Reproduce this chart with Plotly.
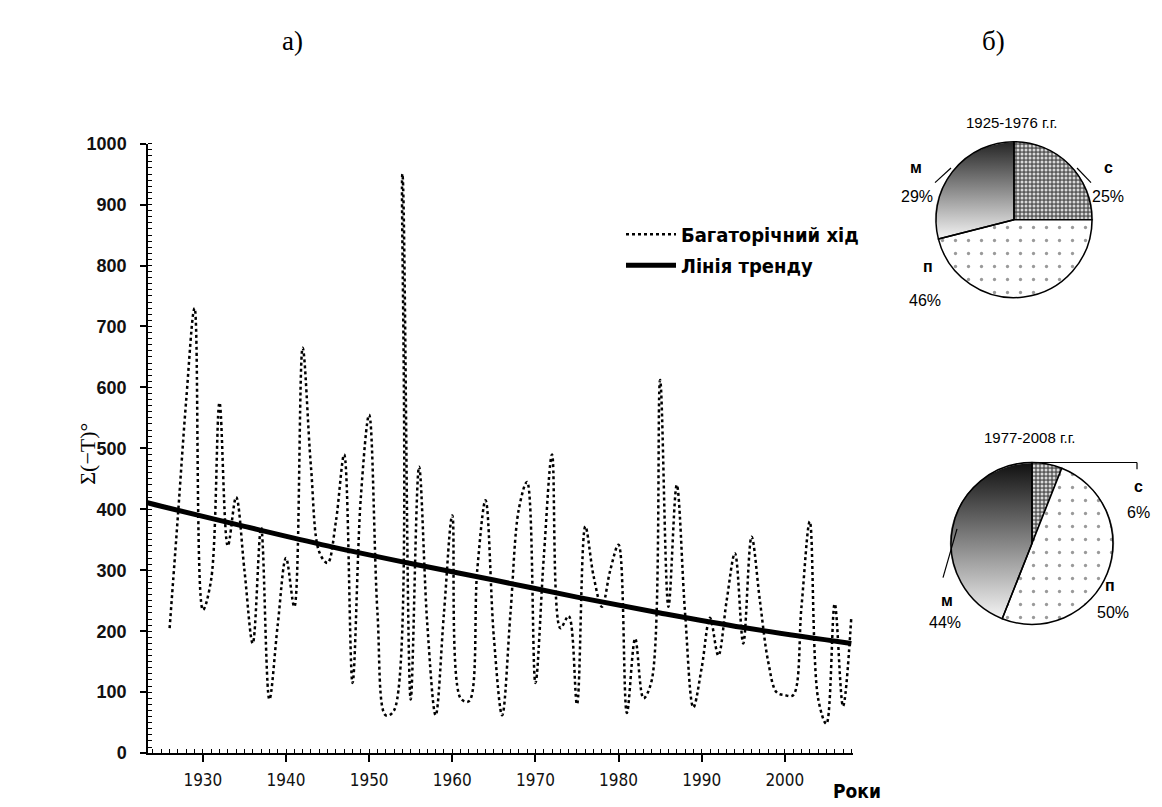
import base64
import plotly.graph_objects as go

W, H = 1162, 807

# ---------------- data ----------------
years = list(range(1926, 2009))
values = [
    205, 390, 580, 730, 235, 285, 575, 340, 420, 300,   # 1926-1935
    180, 370, 88, 210, 320, 240, 665, 470, 330, 312,    # 1936-1945
    380, 490, 115, 420, 555, 230, 62, 70, 950, 88,      # 1946-1955
    470, 210, 62, 230, 390, 90, 85, 300, 415, 190,      # 1956-1965
    62, 230, 400, 445, 115, 320, 490, 205, 225, 80,     # 1966-1975
    372, 290, 240, 300, 342, 66, 188, 90, 120, 612,     # 1976-1985
    240, 440, 230, 75, 140, 222, 160, 250, 328, 180,    # 1986-1995
    355, 250, 150, 100, 95, 95, 240, 380, 90, 48,       # 1996-2005
    245, 77, 224,                                       # 2006-2008
]
trend_years = [1923, 1925, 1935, 1945, 1955, 1965, 1975, 1985, 1995, 2008]
trend_values = [412, 405, 372, 340, 311, 284, 256, 230, 206, 180]

series_names = ["Багаторічний хід", "Лінія тренду"]
x_title = "Роки"
y_title = "Σ(−T)°"

pie_labels = ["с", "п", "м"]
pie1_title = "1925-1976 г.г."
pie1_values = [25, 46, 29]
pie2_title = "1977-2008 г.г."
pie2_values = [6, 50, 44]

SANS = "Liberation Sans, Arial, sans-serif"
NARROW = "Liberation Sans Narrow, Arial Narrow, DejaVu Sans Condensed, Liberation Sans, sans-serif"
SERIF = "Liberation Serif, Times New Roman, serif"


# ---------------- helpers ----------------
def px(x):
    return x / W


def py(y):
    return 1 - y / H


def grad_circle(top, mid, stop_mid):
    svg = (
        '<svg xmlns="http://www.w3.org/2000/svg" width="200" height="200">'
        '<defs><linearGradient id="g" x1="0" y1="0" x2="0" y2="1">'
        f'<stop offset="0" stop-color="{top}"/>'
        f'<stop offset="{stop_mid}" stop-color="{mid}"/>'
        '</linearGradient></defs>'
        '<circle cx="100" cy="100" r="99" fill="url(#g)"/></svg>'
    )
    return "data:image/svg+xml;base64," + base64.b64encode(svg.encode()).decode()


fig = go.Figure()

fig.add_trace(go.Scatter(
    x=years, y=values, mode="lines", name=series_names[0],
    line=dict(color="black", width=2.5, dash="dot", shape="spline"),
    legendgroup="a",
))
fig.add_trace(go.Scatter(
    x=trend_years, y=trend_values, mode="lines", name=series_names[1],
    line=dict(color="black", width=5, shape="spline"),
    legendgroup="b",
))

# pies
p1c = (1014, 215)
p1r = 80
p2c = (1032, 547)
p2r = 83

pie_marker_common = dict(
    line=dict(color="black", width=1.5),
    pattern=dict(
        shape=[".", ".", ""],
        fgcolor=["#d8d8d8", "#9a9a9a", "black"],
        bgcolor=["#5a5a5a", "white", "rgba(0,0,0,0)"],
        size=[4, 13, 8],
        solidity=[0.45, 0.05, 0.1],
    ),
)

for vals, (cx, cy), r in [(pie1_values, p1c, p1r), (pie2_values, p2c, p2r)]:
    fig.add_trace(go.Pie(
        labels=pie_labels, values=vals, sort=False, direction="clockwise",
        rotation=0, textinfo="none", showlegend=False, hoverinfo="label+percent",
        domain=dict(x=[px(cx - r), px(cx + r)], y=[py(cy + r), py(cy - r)]),
        marker=dict(colors=["#5a5a5a", "white", "rgba(0,0,0,0)"], **pie_marker_common),
    ))

images = [
    dict(source=grad_circle("#262626", "#ffffff", 0.66), xref="paper", yref="paper",
         x=px(p1c[0] - p1r), y=py(p1c[1] - p1r), sizex=2 * p1r / W, sizey=2 * p1r / H,
         sizing="stretch", layer="below", xanchor="left", yanchor="top"),
    dict(source=grad_circle("#111111", "#f0f0f0", 0.95), xref="paper", yref="paper",
         x=px(p2c[0] - p2r), y=py(p2c[1] - p2r), sizex=2 * p2r / W, sizey=2 * p2r / H,
         sizing="stretch", layer="below", xanchor="left", yanchor="top"),
]

annotations = [
    dict(text="а)", x=px(292), y=py(32), font=dict(family=SERIF, size=27, color="black")),
    dict(text="б)", x=px(993), y=py(32), font=dict(family=SERIF, size=27, color="black")),
    dict(text=y_title, x=px(88), y=py(455), textangle=-90,
         font=dict(family=SERIF, size=22, color="black")),
    dict(text=f"<b>{x_title}</b>", x=px(857), y=py(801),
         font=dict(family=NARROW, size=19, color="black")),
    dict(text=pie1_title, x=px(1012), y=py(115), font=dict(family=SANS, size=15, color="black")),
    dict(text=pie2_title, x=px(1030), y=py(438), font=dict(family=SANS, size=15, color="black")),
]

label_pos1 = {"с": [(1108, 161), (1108, 191)], "п": [(928, 263), (925, 298)], "м": [(916, 161), (917, 191)]}
label_pos2 = {"с": [(1138, 489), (1138, 515)], "п": [(1110, 590), (1113, 618)], "м": [(947, 606), (945, 628)]}
for vals, lp in [(pie1_values, label_pos1), (pie2_values, label_pos2)]:
    for lab, v in zip(pie_labels, vals):
        (lx, ly), (vx, vy) = lp[lab]
        annotations.append(dict(text=f"<b>{lab}</b>", x=px(lx), y=py(ly),
                                font=dict(family=SANS, size=16, color="black")))
        annotations.append(dict(text=f"{v}%", x=px(vx), y=py(vy),
                                font=dict(family=SANS, size=16, color="black")))

for a in annotations:
    a.update(xref="paper", yref="paper", showarrow=False, xanchor="center", yanchor="middle")


def seg(x0, y0, x1, y1):
    return dict(type="line", xref="paper", yref="paper", x0=px(x0), y0=py(y0), x1=px(x1), y1=py(y1),
                line=dict(color="black", width=1.2))


shapes = [
    seg(935, 177, 951, 162),
    seg(1077, 162, 1091, 177),
    seg(1040, 464, 1137, 464),
    seg(1137, 464, 1137, 471),
    seg(943, 582, 957, 532),
]

fig.update_layout(
    width=W, height=H,
    margin=dict(l=0, r=0, t=0, b=0),
    paper_bgcolor="white", plot_bgcolor="rgba(0,0,0,0)",
    showlegend=True,
    legend=dict(x=px(621), y=py(210), xanchor="left", yanchor="top",
                font=dict(family=NARROW, size=20, color="black", weight="bold"),
                bgcolor="rgba(0,0,0,0)", tracegroupgap=2, itemwidth=50),
    annotations=annotations,
    shapes=shapes,
    images=images,
    xaxis=dict(
        domain=[px(148), px(853)], range=[1923.4, 2008.2],
        tickmode="linear", tick0=1930, dtick=10,
        ticks="outside", ticklen=7, tickwidth=1.5, tickcolor="black",
        showline=True, linecolor="black", linewidth=1.5,
        showgrid=False, zeroline=False,
        minor=dict(tick0=1930, dtick=1, ticks="inside", ticklen=4, tickwidth=1, tickcolor="black", showgrid=False),
        tickfont=dict(family=NARROW, size=17, color="#111"),
        ticklabelstandoff=4,
    ),
    yaxis=dict(
        domain=[py(762), py(137)], range=[0, 1000],
        tickmode="linear", tick0=0, dtick=100,
        ticks="outside", ticklen=6, tickwidth=1.5, tickcolor="black",
        showline=True, linecolor="black", linewidth=1.5,
        showgrid=False, zeroline=False,
        minor=dict(tick0=0, dtick=10, ticks="inside", ticklen=4, tickwidth=1, tickcolor="black", showgrid=False),
        tickfont=dict(family=SANS, size=18, color="#111", weight="bold"),
        ticklabelstandoff=10,
    ),
)

fig.write_html(
    "out.html",
    config={"displayModeBar": False},
    post_script="document.body.style.margin='0';document.body.style.overflow='hidden';",
)
